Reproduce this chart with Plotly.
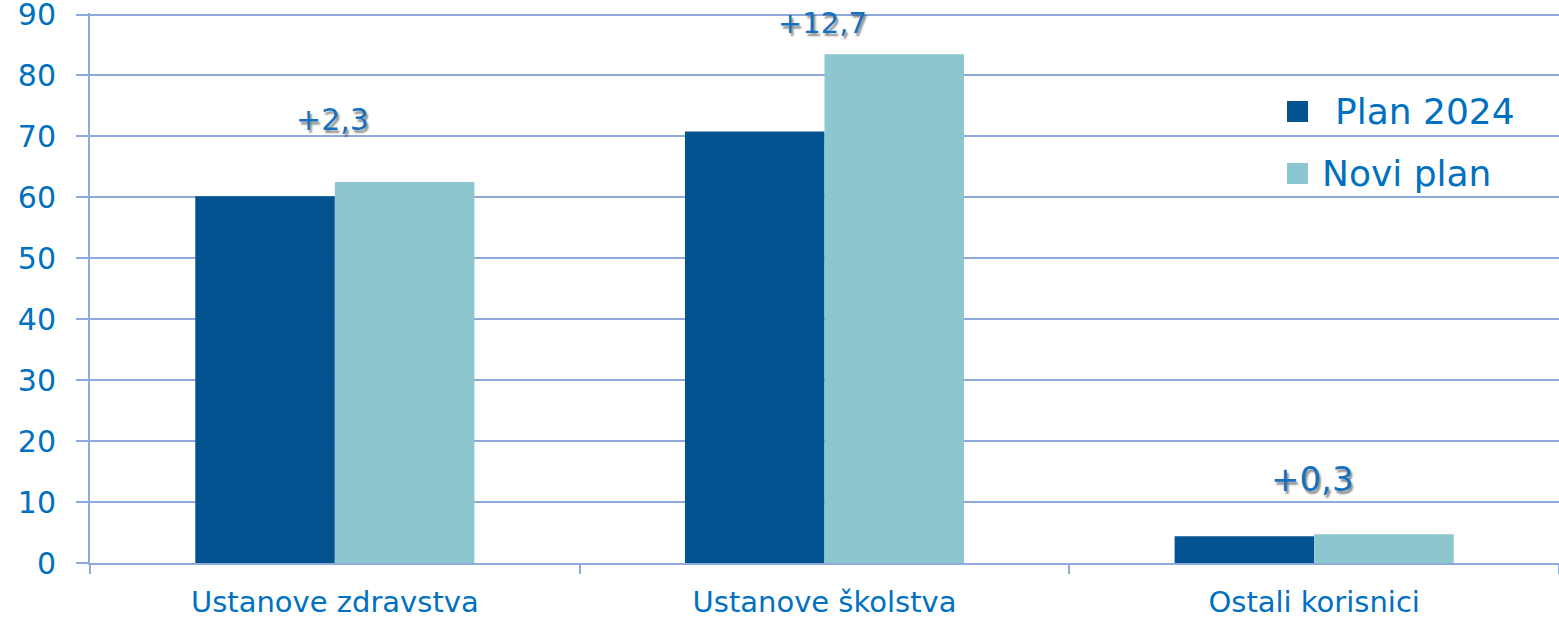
import plotly.graph_objects as go

categories = ["Ustanove zdravstva", "Ustanove školstva", "Ostali korisnici"]
plan_2024 = [60.2, 70.8, 4.4]
novi_plan = [62.5, 83.5, 4.7]
diff_labels = ["+2,3", "+12,7", "+0,3"]
series_names = ["Plan 2024", "Novi plan"]
y_ticks = [0, 10, 20, 30, 40, 50, 60, 70, 80, 90]

FONT = "Verdana, DejaVu Sans, sans-serif"
TXT = "#0070C0"
GRID = "#8EA9DB"
COLORS = ["#02538F", "#8CC6CF"]

fig = go.Figure()
for name, vals, col in zip(series_names, [plan_2024, novi_plan], COLORS):
    fig.add_trace(go.Bar(name=name, x=categories, y=vals, showlegend=False,
                         hoverinfo="skip",
                         marker=dict(color=col, line=dict(width=0))))

yshifts = [63, 31, 55]
sizes = [30, 29, 34]
for c, a, b, lab, ys, sz in zip(categories, plan_2024, novi_plan, diff_labels, yshifts, sizes):
    fig.add_annotation(x=c, y=max(a, b), text=lab, showarrow=False,
                       yanchor="middle", yshift=ys, xshift=-2,
                       font=dict(family=FONT, size=sz, color="#1570BF",
                                 shadow="2px 3px 2px rgba(0,0,0,0.45)"))

# custom legend (squares + text) in paper coordinates
L, T, W, H = 90, 13, 1469, 550
def px(xp):
    return (xp - L) / W
def py(yp):
    return (T + H - yp) / H

leg_rows = [(101, 1333), (163, 1320)]
for (top, tx), name, col in zip(leg_rows, series_names, COLORS):
    fig.add_shape(type="rect", xref="paper", yref="paper",
                  x0=px(1287), x1=px(1308), y0=py(top + 21), y1=py(top),
                  fillcolor=col, line=dict(width=0))
    fig.add_annotation(xref="paper", yref="paper", x=px(tx), y=py(top + 10.5),
                       xanchor="left", yanchor="middle", showarrow=False,
                       text=name, font=dict(family=FONT, size=36, color=TXT))

fig.update_layout(
    width=1559, height=618,
    margin=dict(l=L, r=0, t=T, b=618 - T - H),
    paper_bgcolor="white", plot_bgcolor="white",
    barmode="group", bargap=0.43, bargroupgap=0,
    showlegend=False, hovermode=False,
    xaxis=dict(type="category", tickson="boundaries", ticks="outside",
               ticklen=9, tickcolor=GRID, tickwidth=2,
               showline=True, linecolor=GRID, linewidth=2,
               showgrid=False, automargin=False, ticklabelstandoff=12,
               ticklabeloverflow="allow",
               tickfont=dict(family=FONT, size=29, color=TXT)),
    yaxis=dict(range=[0, 90.25], tickvals=y_ticks, ticks="outside",
               ticklen=12, tickcolor=GRID, tickwidth=2,
               showgrid=True, gridcolor=GRID, gridwidth=2,
               showline=True, linecolor=GRID, linewidth=2,
               zeroline=False, automargin=False, ticklabelstandoff=14,
               ticklabeloverflow="allow",
               tickfont=dict(family=FONT, size=30, color=TXT)),
)

fig.write_html("out.html", config={"displayModeBar": False, "staticPlot": True},
               post_script="document.body.style.margin='0';document.body.style.overflow='hidden';")
